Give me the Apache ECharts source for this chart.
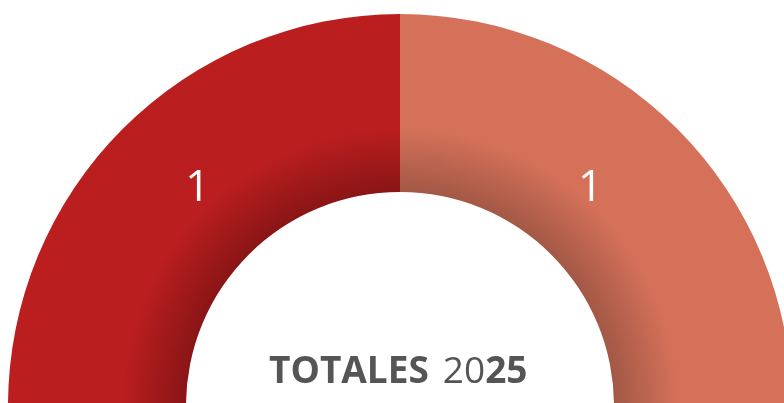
<!DOCTYPE html>
<html><head><meta charset="utf-8">
<script src="https://cdn.jsdelivr.net/npm/echarts@6/dist/echarts.min.js"></script>
<style>html,body{margin:0;padding:0;background:#fff}#c{width:784px;height:403px}</style>
</head><body><div id="c"></div>
<script>
const categories = ['A', 'B'];
const values = [1, 1];
const titleBold = 'TOTALES';
const yearLight = '20';
const yearBold = '25';

const colors = ['#BB1E1F', '#D57159'];
const darkColors = ['#8A1516', '#A35846'];
const cx = 400, cy = 406, rIn = 214, rOut = 392;
function grad(i) {
  return {
    type: 'radial', x: cx, y: cy, r: rOut, global: true,
    colorStops: [
      { offset: 0, color: darkColors[i] },
      { offset: rIn / rOut, color: darkColors[i] },
      { offset: 0.71, color: colors[i] },
      { offset: 1, color: colors[i] }
    ]
  };
}
const offsets = [[14, -1], [-26, -1]];
const total = values.reduce((a, b) => a + b, 0);
const data = categories.map((c, i) => ({
  name: c, value: values[i],
  itemStyle: { color: grad(i) },
  label: { offset: offsets[i] }
}));
data.push({ name: '', value: total, itemStyle: { color: 'rgba(0,0,0,0)' }, label: { show: false }, silent: true, tooltip: { show: false } });

const chart = echarts.init(document.getElementById('c'), null, { renderer: 'canvas' });
chart.setOption({
  animation: false,
  series: [{
    type: 'pie',
    center: [cx, cy],
    radius: [rIn, rOut],
    startAngle: 180,
    clockwise: true,
    avoidLabelOverlap: false,
    label: {
      show: true, position: 'inside', formatter: '{c}',
      color: '#fff', fontSize: 43, fontFamily: 'Open Sans', fontWeight: 'normal'
    },
    labelLine: { show: false },
    itemStyle: { borderWidth: 0 },
    emphasis: { disabled: true },
    data: data
  }],
  graphic: [{
    type: 'text', left: 269, top: 354,
    style: {
      text: '{b|' + titleBold + '}{s| }{l|' + yearLight + '}{b|' + yearBold + '}',
      rich: {
        b: { fontFamily: 'Open Sans', fontWeight: 'bold', fontSize: 37, fill: '#555555', color: '#555555' },
        s: { fontFamily: 'Open Sans', fontSize: 37, width: 14 },
        l: { fontFamily: 'Open Sans', fontWeight: 'normal', fontSize: 37, fill: '#555555', color: '#555555' }
      }
    }
  }]
});
</script></body></html>
